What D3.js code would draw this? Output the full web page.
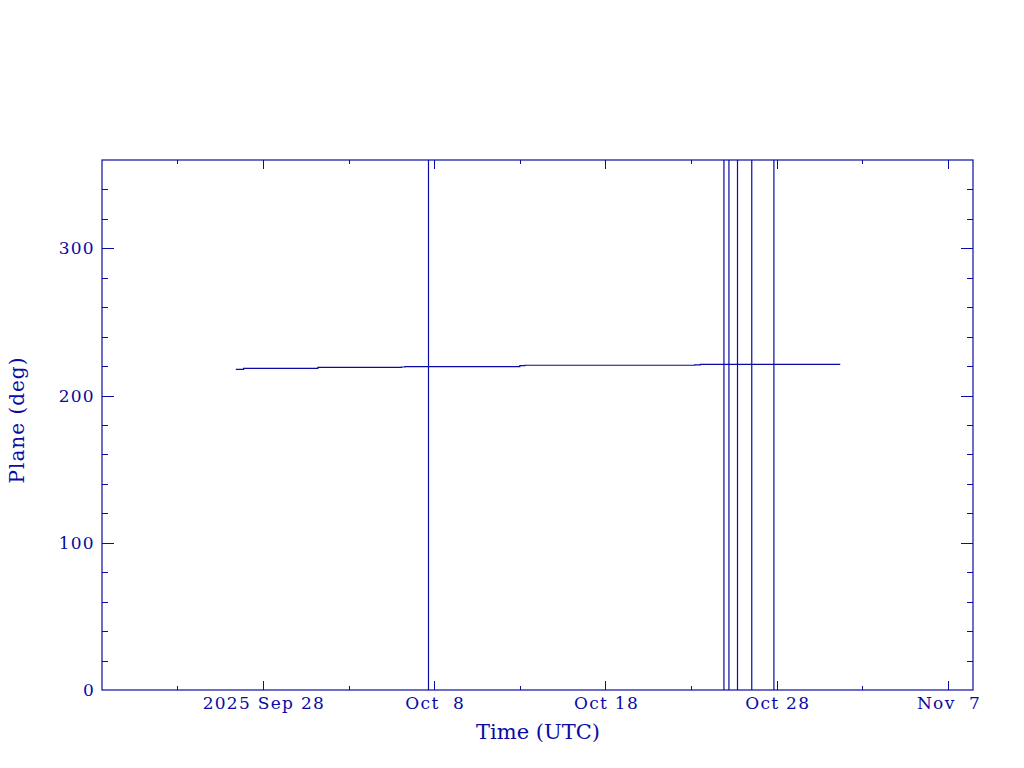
<!DOCTYPE html>
<html>
<head>
<meta charset="utf-8">
<script src="https://cdn.jsdelivr.net/npm/d3@7"></script>
<style>
  body { margin: 0; background: #fff; }
  svg { display: block; }
</style>
</head>
<body>
<svg id="chart" width="1024" height="768"></svg>
<script>
// plane angle (UTC times)
var times = ["2025-09-26T10:00", "2025-09-26T21:00", "2025-10-01T05:00", "2025-10-06T02:00",
             "2025-10-06T07:00", "2025-10-13T00:00", "2025-10-13T07:00", "2025-10-23T05:00",
             "2025-10-23T13:00", "2025-10-31T17:00"];
var planes = [217.8, 218.5, 219.2, 219.4, 219.7, 220.3, 220.6, 220.9, 221.2, 221.2];

// times where the angle wraps 360 -> 0 (full height vertical lines)
var wrapTimes = ["2025-10-07T16:00", "2025-10-24T22:00", "2025-10-25T05:00",
                 "2025-10-25T17:00", "2025-10-26T13:00", "2025-10-27T20:00"];

var tickDates = ["2025-09-28", "2025-10-08", "2025-10-18", "2025-10-28", "2025-11-07"];
var tickLabels = ["2025 Sep 28", "Oct  8", "Oct 18", "Oct 28", "Nov  7"];
var yTicks = [0, 100, 200, 300];

var color = "#0a0aa5";
var parse = d3.utcParse("%Y-%m-%dT%H:%M");
var parseDay = d3.utcParse("%Y-%m-%d");

// plot box (window.top is taken, so prefix these)
var pL = 102, pR = 973, pT = 160, pB = 690;

var x = d3.scaleUtc()
    .domain([parse("2025-09-18T14:30"), parse("2025-11-08T11:00")])
    .range([pL, pR]);
var y = d3.scaleLinear().domain([0, 360]).range([pB, pT]);

var svg = d3.select("#chart");

// build the points, inserting the wraps where they fall
var base = times.map(function(t, i) { return {t: parse(t), v: planes[i]}; });
var pts = base.slice();
wrapTimes.forEach(function(w) {
    var t = parse(w);
    var prev = base.filter(function(p) { return p.t <= t; });
    var v = prev[prev.length - 1].v;
    pts.push({t: t, v: v, k: 1}, {t: t, v: 360, k: 2}, {t: t, v: 0, k: 3}, {t: t, v: v, k: 4});
});
pts.sort(function(a, b) { return a.t - b.t || (a.k || 0) - (b.k || 0); });

svg.append("defs").append("clipPath").attr("id", "clip")
  .append("rect").attr("x", pL).attr("y", pT)
  .attr("width", pR - pL).attr("height", pB - pT);

var line = d3.line()
    .x(function(d) { return x(d.t); })
    .y(function(d) { return y(d.v); })
    .curve(d3.curveStepAfter);

svg.append("path")
    .datum(pts)
    .attr("clip-path", "url(#clip)")
    .attr("d", line)
    .attr("fill", "none")
    .attr("stroke", color)
    .attr("stroke-width", 1.2);

// frame
svg.append("rect")
    .attr("x", pL).attr("y", pT)
    .attr("width", pR - pL).attr("height", pB - pT)
    .attr("fill", "none").attr("stroke", color).attr("stroke-width", 1.2);

var g = svg.append("g").attr("stroke", color).attr("stroke-width", 1);

// x ticks, major every 10 days, minor every 5
var xMinor = d3.range(0, 50, 5).map(function(i) {
    return d3.utcDay.offset(parseDay("2025-09-23"), i);
});
xMinor.forEach(function(d) {
    var major = tickDates.indexOf(d3.utcFormat("%Y-%m-%d")(d)) >= 0;
    var len = major ? 9 : 4;
    var px = Math.round(x(d)) + 0.5;
    g.append("line").attr("x1", px).attr("x2", px).attr("y1", pB).attr("y2", pB - len);
    g.append("line").attr("x1", px).attr("x2", px).attr("y1", pT).attr("y2", pT + len);
});

// y ticks, major every 100, minor every 20
d3.range(20, 360, 20).forEach(function(v) {
    var major = v % 100 === 0;
    var len = major ? 12 : 6;
    var py = Math.round(y(v)) + 0.5;
    g.append("line").attr("x1", pL).attr("x2", pL + len).attr("y1", py).attr("y2", py);
    g.append("line").attr("x1", pR).attr("x2", pR - len).attr("y1", py).attr("y2", py);
});

var font = "'DejaVu Serif', serif";

svg.selectAll(".xl")
  .data(tickDates)
  .enter().append("text")
    .attr("x", function(d) { return x(parseDay(d)) + 1; })
    .attr("y", 709)
    .attr("text-anchor", "middle")
    .attr("xml:space", "preserve")
    .style("font-family", font).style("font-size", "17px").style("letter-spacing", "1.3px")
    .attr("fill", color)
    .text(function(d, i) { return tickLabels[i]; });

svg.selectAll(".yl")
  .data(yTicks)
  .enter().append("text")
    .attr("x", 95)
    .attr("y", function(d) { return y(d) + 6; })
    .attr("text-anchor", "end")
    .style("font-family", font).style("font-size", "17px").style("letter-spacing", "1.3px")
    .attr("fill", color)
    .text(function(d) { return d; });

svg.append("text")
    .attr("x", 538).attr("y", 739)
    .attr("text-anchor", "middle")
    .style("font-family", font).style("font-size", "21px")
    .attr("fill", color)
    .text("Time (UTC)");

svg.append("text")
    .attr("transform", "translate(24,420) rotate(-90)")
    .attr("text-anchor", "middle")
    .style("font-family", font).style("font-size", "20px").style("letter-spacing", "1px")
    .attr("fill", color)
    .text("Plane (deg)");
</script>
</body>
</html>
